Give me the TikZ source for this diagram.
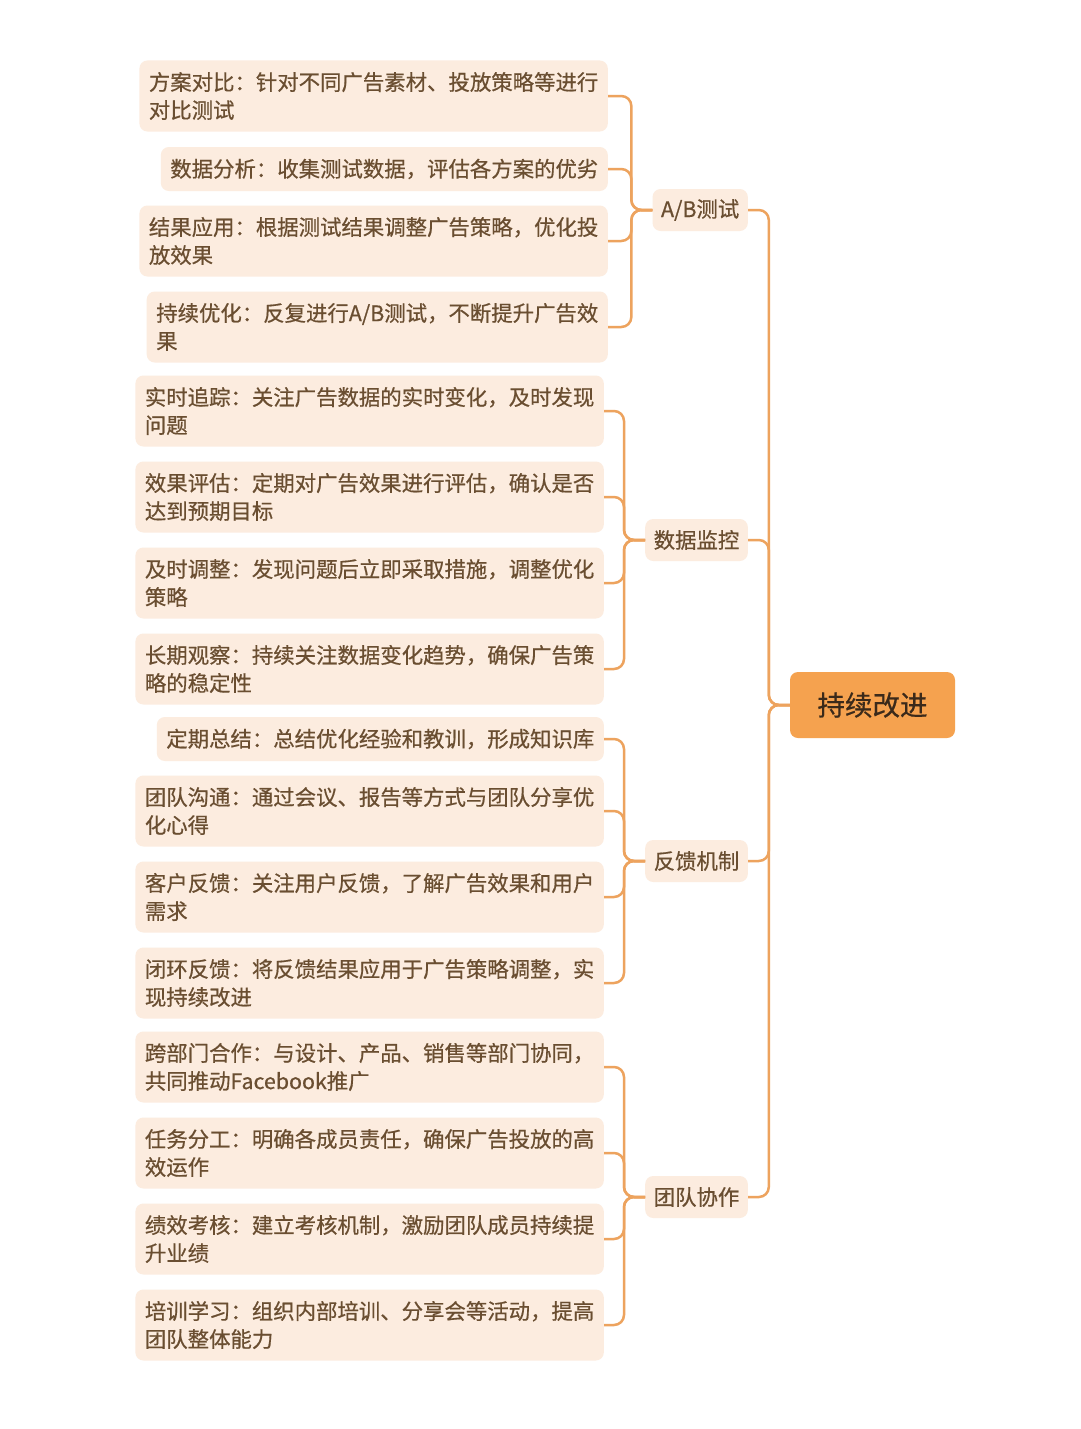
\documentclass[tikz,border=0pt]{standalone}
\usepackage{fontspec}
\setmainfont{Noto Sans CJK SC}[FakeBold=0.6]
\usetikzlibrary{positioning}
\definecolor{linec}{HTML}{EDA35E}
\definecolor{leaff}{HTML}{FCECDF}
\definecolor{leaft}{HTML}{6A4E31}
\definecolor{rootf}{HTML}{F5A24F}
\definecolor{roott}{HTML}{3B2A1A}

\begin{document}
\begin{tikzpicture}[ x=1pt , y=-1pt ,
  leaf/.style={ fill=leaff , text=leaft , rounded corners=8pt , align=left , anchor=east ,
    inner xsep=9.5pt , minimum height=71pt , font=\fontsize{21.4pt}{28pt}\selectfont },
  single/.style={ minimum height=44pt },
  topic/.style={ fill=leaff , text=leaft , rounded corners=8pt , anchor=east ,
    inner xsep=8.5pt , minimum height=42pt , font=\fontsize{21.4pt}{28pt}\selectfont },
  link/.style={ draw=linec , line width=2.5pt , rounded corners=10pt ,
    to path={(\tikztostart.west) -- ++(-21,0) |- (\tikztotarget.east)} } ]
\useasboundingbox [fill=white] (0,0) rectangle (1080,1429);

\node [ fill=rootf , text=roott , rounded corners=8pt , minimum width=165pt , minimum height=66pt ,
  font=\fontsize{27.5pt}{32pt}\selectfont ] (root) at (872.5,705) {持续改进};

\node [topic] (ab) at (748,210) {A/B测试};
\node [topic] (sj) at (748,540) {数据监控};
\node [topic] (fk) at (748,861) {反馈机制};
\node [topic] (td) at (748,1197) {团队协作};

% A/B测试
\node [leaf] (ab_1) at (608,96) {方案对比：针对不同广告素材、投放策略等进行\\对比测试};
\node [leaf, single] (ab_2) at (608,169) {数据分析：收集测试数据，评估各方案的优劣};
\node [leaf] (ab_3) at (608,241) {结果应用：根据测试结果调整广告策略，优化投\\放效果};
\node [leaf] (ab_4) at (608,327) {持续优化：反复进行A/B测试，不断提升广告效\\果};

% 数据监控
\node [leaf] (sj_1) at (604,411) {实时追踪：关注广告数据的实时变化，及时发现\\问题};
\node [leaf] (sj_2) at (604,497) {效果评估：定期对广告效果进行评估，确认是否\\达到预期目标};
\node [leaf] (sj_3) at (604,583) {及时调整：发现问题后立即采取措施，调整优化\\策略};
\node [leaf] (sj_4) at (604,669) {长期观察：持续关注数据变化趋势，确保广告策\\略的稳定性};

% 反馈机制
\node [leaf, single] (fk_1) at (604,739) {定期总结：总结优化经验和教训，形成知识库};
\node [leaf] (fk_2) at (604,811) {团队沟通：通过会议、报告等方式与团队分享优\\化心得};
\node [leaf] (fk_3) at (604,897) {客户反馈：关注用户反馈，了解广告效果和用户\\需求};
\node [leaf] (fk_4) at (604,983) {闭环反馈：将反馈结果应用于广告策略调整，实\\现持续改进};

% 团队协作
\node [leaf] (td_1) at (604,1067) {跨部门合作：与设计、产品、销售等部门协同，\\共同推动Facebook推广};
\node [leaf] (td_2) at (604,1153) {任务分工：明确各成员责任，确保广告投放的高\\效运作};
\node [leaf] (td_3) at (604,1239) {绩效考核：建立考核机制，激励团队成员持续提\\升业绩};
\node [leaf] (td_4) at (604,1325) {培训学习：组织内部培训、分享会等活动，提高\\团队整体能力};

\path [link]
(root) edge (ab) edge (sj) edge (fk) edge (td)
(ab) edge (ab_1) edge (ab_2) edge (ab_3) edge (ab_4)
(sj) edge (sj_1) edge (sj_2) edge (sj_3) edge (sj_4)
(fk) edge (fk_1) edge (fk_2) edge (fk_3) edge (fk_4)
(td) edge (td_1) edge (td_2) edge (td_3) edge (td_4);
\end{tikzpicture}
\end{document}
